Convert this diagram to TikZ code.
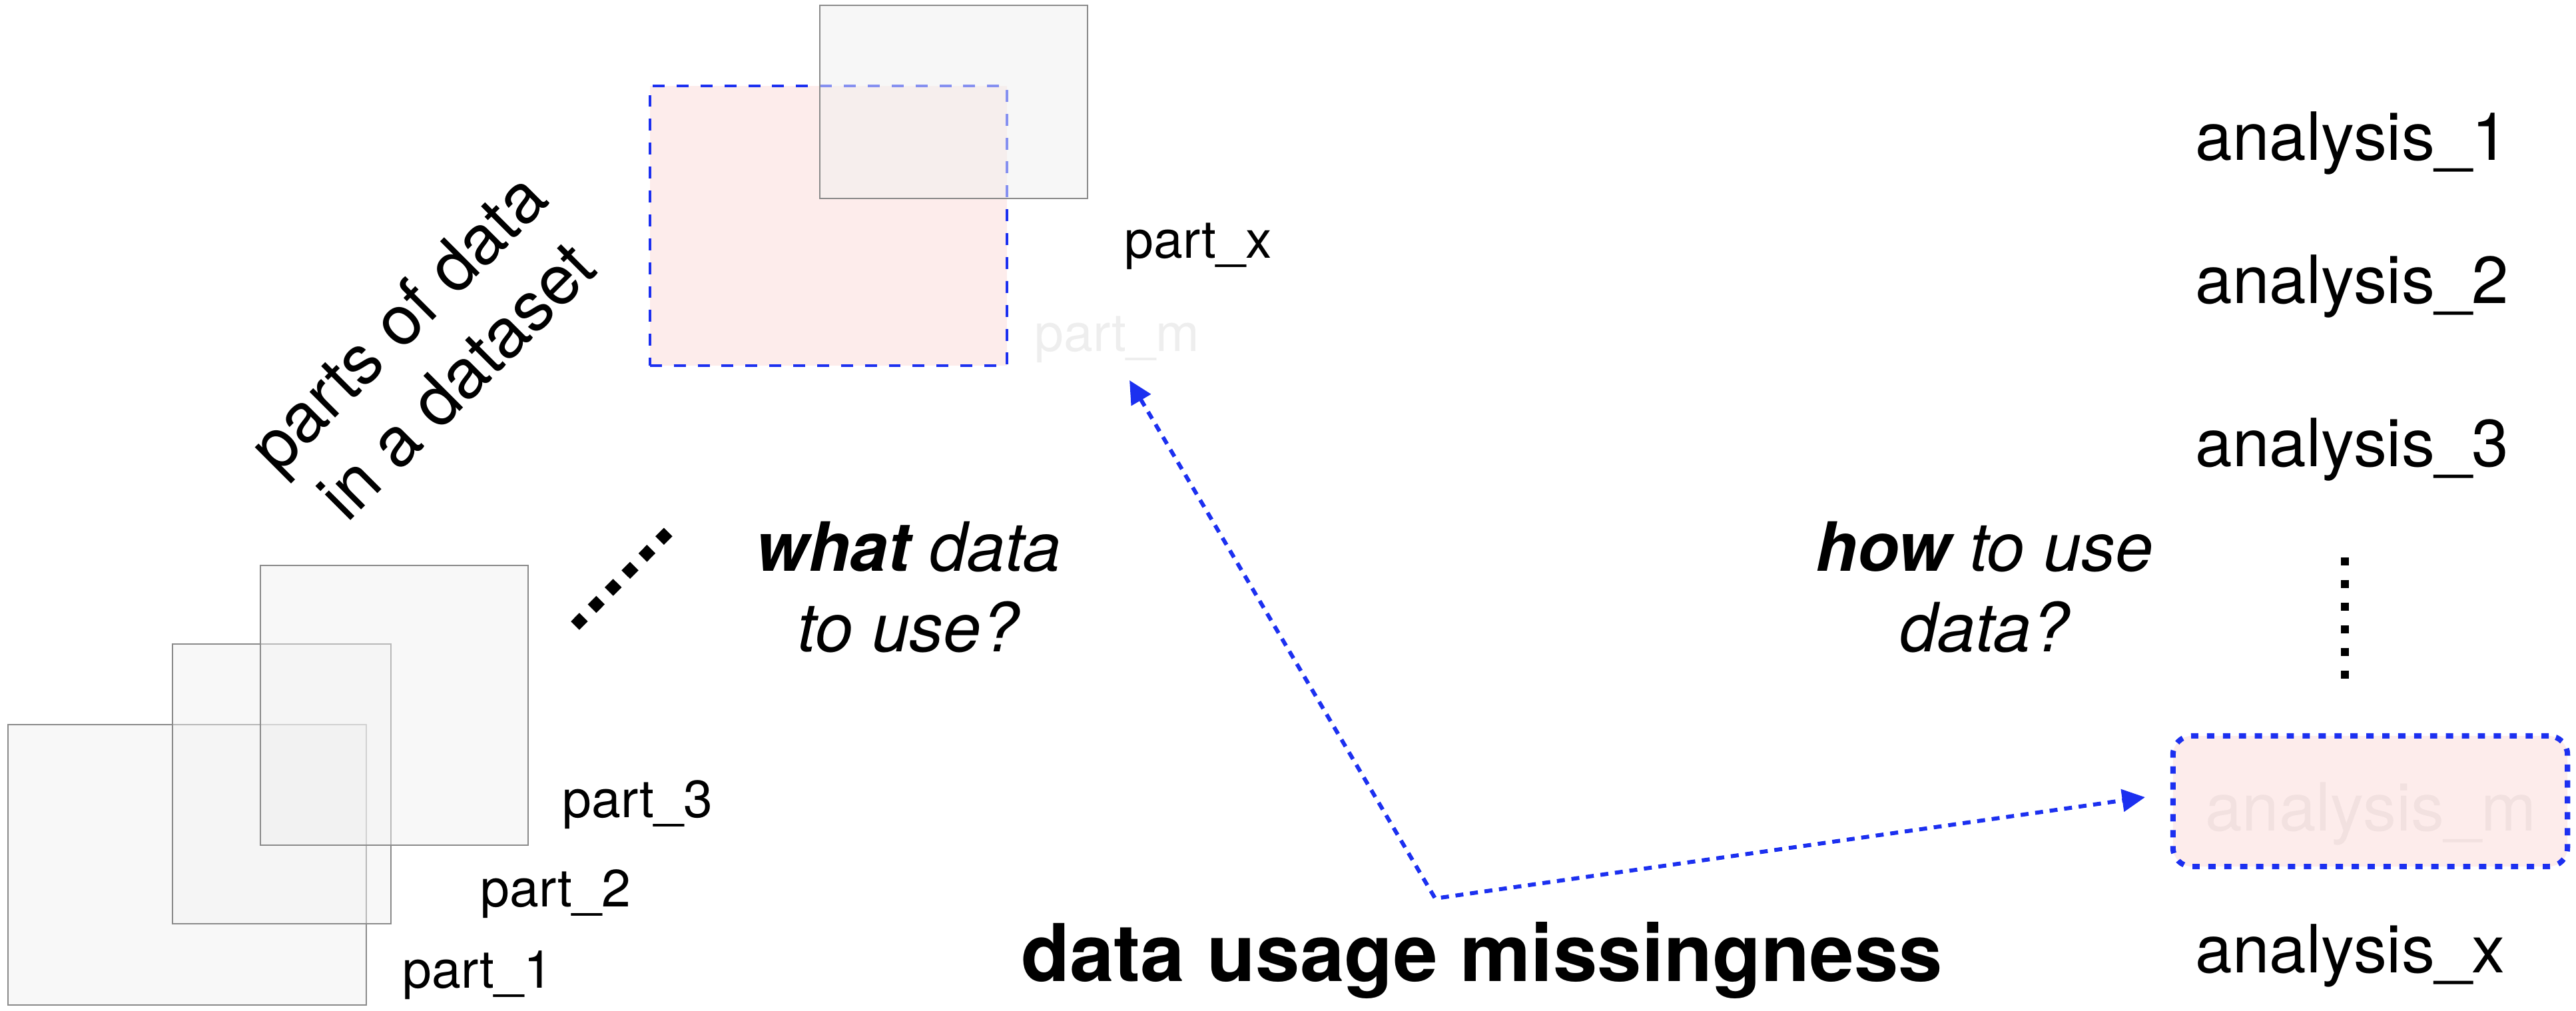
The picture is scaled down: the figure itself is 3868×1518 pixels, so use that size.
\documentclass[tikz,border=0pt]{standalone}
\usepackage{fontspec}
\setmainfont{TeX Gyre Heros}
\usetikzlibrary{arrows.meta}
\definecolor{lineblue}{RGB}{28,48,240}
\definecolor{pinkfill}{RGB}{253,236,235}
\definecolor{boxgray}{RGB}{138,138,138}
\definecolor{lightfill}{RGB}{240,240,240}
\tikzset{
  partbox/.style={draw=boxgray, line width=0.6pt, fill=lightfill, fill opacity=0.45, draw opacity=1, inner sep=0pt, outer sep=0pt},
  selbox/.style={draw=lineblue, line width=1.15pt, dash pattern=on 5.1pt off 5.1pt, fill=pinkfill, inner sep=0pt, outer sep=0pt},
  selround/.style={draw=lineblue, line width=2.3pt, dash pattern=on 3.1pt off 3.7pt, fill=pinkfill, rounded corners=8pt, inner sep=0pt, outer sep=0pt},
  partlabel/.style={font=\fontsize{22.4}{27}\selectfont, inner sep=0pt, anchor=base west},
  anlabel/.style={font=\fontsize{28.4}{34}\selectfont, inner sep=0pt, anchor=base west},
  qlabel/.style={font=\fontsize{29}{35}\selectfont\itshape, inner sep=0pt, anchor=base},
  faded/.style={text=black, text opacity=0.065},
  blueconn/.style={draw=lineblue, line width=1.7pt, dash pattern=on 3.4pt off 2.85pt,
     {Triangle[length=9.8pt,width=9.4pt]}-{Triangle[length=9.8pt,width=9.4pt]}},
  diamonddots/.style={line width=5.12pt, dash pattern=on 5.12pt off 5.12pt},
  vdots/.style={line width=3.4pt, dash pattern=on 3.4pt off 6.26pt}
}
\begin{document}
\begin{tikzpicture}[x=0.01cm,y=-0.01cm]
\useasboundingbox (0,0) rectangle (3868,1518);
% dataset parts
\node[partbox, minimum width=5.38cm, minimum height=4.21cm] (p1) at (281,1298.5) {};
\node[partbox, minimum width=3.28cm, minimum height=4.20cm] (p2) at (423,1177) {};
\node[partbox, minimum width=4.02cm, minimum height=4.20cm] (p3) at (592,1059) {};
\node[partlabel] (l1) at (604,1483) {part\_1};
\node[partlabel] (l2) at (721,1361) {part\_2};
\node[partlabel] (l3) at (844,1227) {part\_3};
% selected part and part_x
\node[selbox, minimum width=5.36cm, minimum height=4.20cm] (pm) at (1244,339) {};
\node[partbox, fill opacity=0.5, minimum width=4.02cm, minimum height=2.90cm] (px) at (1432,153) {};
\node[partlabel] (lx) at (1688,387) {part\_x};
\node[partlabel, faded] (lm) at (1553,527) {part\_m};
% rotated caption
\node[rotate=45, align=center, inner sep=0pt, font=\fontsize{29.5}{35.5}\selectfont] (cap) at (640,527) {parts of data\\in a dataset};
% diagonal dots
\coordinate (d0) at (863.6,939.4);
\coordinate (d1) at (1003.4,798.6);
\draw[diamonddots] (d0) -- (d1);
% questions
\node[qlabel] (q1a) at (1364,857) {\textbf{what} data};
\node[qlabel] (q1b) at (1364,978) {to use?};
\node[qlabel] (q2a) at (2980,857) {\textbf{how} to use};
\node[qlabel] (q2b) at (2980,978) {data?};
% analyses
\node[anlabel] (a1) at (3296,240) {analysis\_1};
\node[anlabel] (a2) at (3296,455) {analysis\_2};
\node[anlabel] (a3) at (3296,700) {analysis\_3};
\coordinate (v0) at (3521,837);
\coordinate (v1) at (3521,1019);
\draw[vdots] (v0) -- (v1);
\node[selround, minimum width=5.92cm, minimum height=1.96cm] (am) at (3559,1203) {};
\node[font=\fontsize{28.4}{34}\selectfont, inner sep=0pt, anchor=base, text=black, text opacity=0.045] (aml) at (3560,1247) {analysis\_m};
\node[anlabel] (ax) at (3296,1460) {analysis\_x};
% title
\node[font=\fontsize{34}{40}\selectfont\bfseries, inner sep=0pt, anchor=base] (title) at (2225,1473) {data usage missingness};
% connector
\coordinate (tipm) at (1696,571);
\coordinate (vtx) at (2155,1349);
\coordinate (tipa) at (3221,1197);
\draw[blueconn] (tipm) -- (vtx) -- (tipa);
\end{tikzpicture}
\end{document}
